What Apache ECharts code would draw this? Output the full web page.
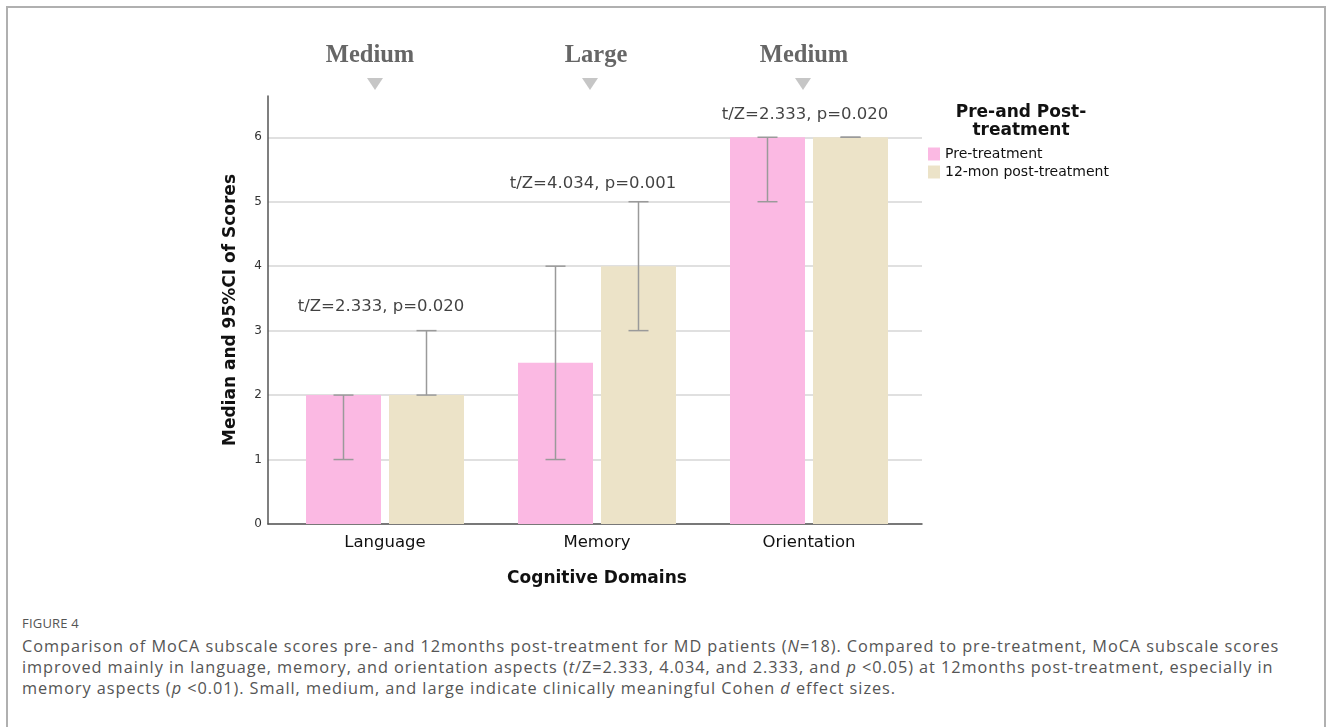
<!DOCTYPE html>
<html>
<head>
<meta charset="utf-8">
<script src="https://cdn.jsdelivr.net/npm/echarts@6/dist/echarts.min.js"></script>
<style>
  html, body { margin: 0; padding: 0; background: #fff; }
  #frame { position: absolute; left: 6px; top: 6px; width: 1320px; height: 740px;
           border-left: 2px solid #b0b0b0; border-right: 2px solid #b0b0b0; border-top: 2px solid #b0b0b0; box-sizing: border-box; }
  #chart { position: absolute; left: 0; top: 0; width: 1330px; height: 600px; }
  #caption { position: absolute; left: 22px; top: 614px; width: 1300px; font-family: "Open Sans", sans-serif; color: #555; }
  #caption .fig { font-size: 13px; letter-spacing: 0.2px; margin-bottom: 4px; }
  #caption .txt { font-size: 16.3px; line-height: 21px; letter-spacing: 0.95px; }
</style>
</head>
<body>
<div id="frame"></div>
<div id="chart"></div>
<div id="caption">
  <div class="fig">FIGURE 4</div>
  <div class="txt">Comparison of MoCA subscale scores pre- and 12months post-treatment for MD patients (<i>N</i>=18). Compared to pre-treatment, MoCA subscale scores<br>
  improved mainly in language, memory, and orientation aspects (<i>t</i>/Z=2.333, 4.034, and 2.333, and <i>p</i> &lt;0.05) at 12months post-treatment, especially in<br>
  memory aspects (<i>p</i> &lt;0.01). Small, medium, and large indicate clinically meaningful Cohen <i>d</i> effect sizes.</div>
</div>
<script>
// Cognitive domains and median scores
const domains = ['Language', 'Memory', 'Orientation'];
const seriesNames = ['Pre-treatment', '12-mon post-treatment'];
const preMedian = [2, 2.5, 6];
const postMedian = [2, 4, 6];
// 95% CI bounds [low, high]
const preCI = [[1, 2], [1, 4], [5, 6]];
const postCI = [[2, 3], [3, 5], [6, 6]];
// Test statistics shown above each domain
const testLabels = ['t/Z=2.333, p=0.020', 't/Z=4.034, p=0.001', 't/Z=2.333, p=0.020'];
const effectSizes = ['Medium', 'Large', 'Medium'];
const yTicks = [0, 1, 2, 3, 4, 5, 6];

const colors = ['#fbb9e3', '#ece3c8'];
const BAR_W = 75, BAR_GAP = 8;
const yMax = 6.64;

const chart = echarts.init(document.getElementById('chart'), null, { renderer: 'canvas' });

function errorBarSeries(ci, offset, name) {
  return {
    type: 'custom', name: name + ' CI', xAxisIndex: 1, yAxisIndex: 1, z: 5,
    data: ci.map((d, i) => [i, d[0], d[1]]),
    encode: { x: 0, y: [1, 2] },
    renderItem: function (params, api) {
      const i = api.value(0);
      const lo = api.coord([i, api.value(1)]);
      const hi = api.coord([i, api.value(2)]);
      const x = lo[0] + offset, cap = 10;
      const style = { stroke: '#9a9a9a', lineWidth: 1.5 };
      return { type: 'group', children: [
        { type: 'line', shape: { x1: x, y1: lo[1], x2: x, y2: hi[1] }, style },
        { type: 'line', shape: { x1: x - cap, y1: lo[1], x2: x + cap, y2: lo[1] }, style },
        { type: 'line', shape: { x1: x - cap, y1: hi[1], x2: x + cap, y2: hi[1] }, style }
      ]};
    }
  };
}

const half = (BAR_W + BAR_GAP) / 2;
const labelDist = [15, 9, 14];

// Effect-size headers with downward markers above each domain
const headerX = [370, 596, 804];
const markerX = [375, 590, 803];
const graphics = [];
effectSizes.forEach((t, i) => {
  graphics.push({ type: 'text', x: headerX[i], y: 56, style: {
    text: t, font: 'bold 24.5px "Liberation Serif", serif', fill: '#666',
    textAlign: 'center', textVerticalAlign: 'middle' } });
  graphics.push({ type: 'polygon', shape: { points: [[markerX[i] - 8, 78], [markerX[i] + 8, 78], [markerX[i], 90]] },
    style: { fill: '#c6c6c6' } });
});
graphics.push({ type: 'text', x: 1021, y: 122, style: {
  text: 'Pre-and Post-\ntreatment', font: 'bold 17px "DejaVu Sans", sans-serif', fill: '#111',
  textAlign: 'center', textVerticalAlign: 'middle', lineHeight: 18 } });

chart.setOption({
  animation: false,
  textStyle: { fontFamily: '"DejaVu Sans", sans-serif' },
  grid: [
    { left: 268, top: 96, width: 654, height: 428 },
    { left: 279, top: 96, width: 636, height: 428 }
  ],
  legend: {
    data: seriesNames, orient: 'vertical', left: 923, top: 142,
    itemWidth: 12, itemHeight: 13, itemGap: 4, icon: 'rect',
    textStyle: { fontSize: 14, color: '#111', fontFamily: '"DejaVu Sans", sans-serif' }
  },
  xAxis: [
    { type: 'value', gridIndex: 0, min: 0, max: 1, axisLine: { show: true, onZero: false, lineStyle: { color: '#555', width: 1.5 } },
      axisTick: { show: false }, axisLabel: { show: false }, splitLine: { show: false } },
    { type: 'category', gridIndex: 1, data: domains, axisLine: { show: false }, axisTick: { show: false },
      axisLabel: { fontSize: 16.5, color: '#111', margin: 10 },
      name: 'Cognitive Domains', nameLocation: 'middle', nameGap: 46,
      nameTextStyle: { fontSize: 17, fontWeight: 'bold', color: '#111' } }
  ],
  yAxis: [
    { type: 'value', gridIndex: 0, min: 0, max: yMax, interval: 1,
      axisLine: { show: true, lineStyle: { color: '#555', width: 1.5 } }, axisTick: { show: false },
      axisLabel: { fontSize: 12, color: '#333', margin: 6, showMaxLabel: false,
        formatter: v => (yTicks.indexOf(v) >= 0 ? String(v) : '') },
      splitLine: { show: true, lineStyle: { width: 1.5,
        color: ['#d6d6d6', '#d6d6d6', '#d6d6d6', '#d6d6d6', '#d6d6d6', '#d6d6d6', '#d6d6d6', 'rgba(0,0,0,0)'] } },
      name: 'Median and 95%CI of Scores', nameLocation: 'middle', nameGap: 29,
      nameTextStyle: { fontSize: 17, fontWeight: 'bold', color: '#111' } },
    { type: 'value', gridIndex: 1, min: 0, max: yMax, show: false, splitLine: { show: false } }
  ],
  series: [
    { type: 'bar', name: seriesNames[0], xAxisIndex: 1, yAxisIndex: 1, data: preMedian,
      barWidth: BAR_W, barGap: (BAR_GAP / BAR_W * 100) + '%', itemStyle: { color: colors[0] } },
    { type: 'bar', name: seriesNames[1], xAxisIndex: 1, yAxisIndex: 1, data: postMedian,
      barWidth: BAR_W, barGap: (BAR_GAP / BAR_W * 100) + '%', itemStyle: { color: colors[1] } },
    errorBarSeries(preCI, -half, seriesNames[0]),
    errorBarSeries(postCI, half, seriesNames[1]),
    { type: 'scatter', name: 'tests', xAxisIndex: 1, yAxisIndex: 1, symbolSize: 0, z: 6,
      data: domains.map((d, i) => ({
        value: [i, Math.max(preCI[i][1], postCI[i][1])],
        label: { show: true, position: 'top', distance: labelDist[i], offset: [-4, 0], formatter: testLabels[i],
          fontSize: 16.5, color: '#111', fontFamily: '"DejaVu Sans", sans-serif' }
      })) }
  ],
  graphic: graphics
});
</script>
</body>
</html>
